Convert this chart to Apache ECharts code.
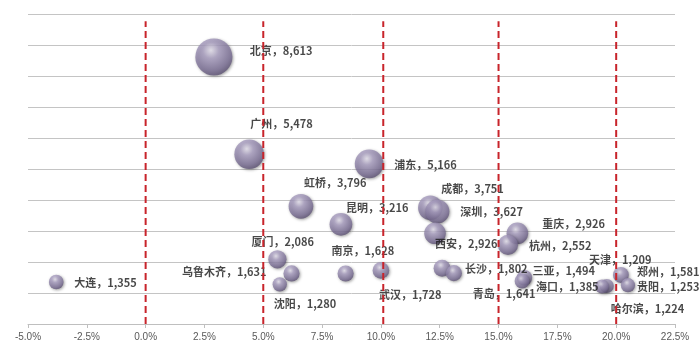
<!DOCTYPE html>
<html>
<head>
<meta charset="utf-8">
<script src="https://cdn.jsdelivr.net/npm/echarts@6/dist/echarts.min.js"></script>
<style>
  html, body { margin: 0; padding: 0; background: #fff; }
  #chart { width: 700px; height: 353px; }
</style>
</head>
<body>
<div id="chart"></div>
<script>
// airports: growth (%) on x, passengers on y, bubble size from passengers
const cities = ['北京', '广州', '浦东', '虹桥', '成都', '深圳', '昆明', '西安', '重庆', '杭州', '厦门', '长沙',
  '武汉', '青岛', '南京', '乌鲁木齐', '郑州', '三亚', '海口', '大连', '沈阳', '贵阳', '哈尔滨', '天津'];
const passengers = [8613, 5478, 5166, 3796, 3751, 3627, 3216, 2926, 2926, 2552, 2086, 1802,
  1728, 1641, 1628, 1631, 1581, 1494, 1385, 1355, 1280, 1253, 1224, 1209];
const growth = [2.9, 4.4, 9.5, 6.6, 12.1, 12.4, 8.3, 12.3, 15.8, 15.4, 5.6, 12.6,
  10.0, 13.1, 8.5, 6.2, 20.2, 16.1, 16.0, -3.8, 5.7, 20.5, 19.6, 19.4];
const refLines = [0, 5, 10.1, 15, 20];
const refTop = 9770;

// where each label sits relative to its bubble centre
const labelPlace = {
  '北京': [36, -6], '广州': [1, -30], '浦东': [25, 1], '虹桥': [3, -24], '成都': [11, -19],
  '深圳': [23, 0], '昆明': [5, -16], '西安': [0, 11], '重庆': [25, -9], '杭州': [21, 1],
  '厦门': [-26, -18], '长沙': [23, 1], '武汉': [-2, 24], '青岛': [19, 21], '南京': [-14, -23],
  '乌鲁木齐': [-25, -2], '郑州': [16, -3], '三亚': [8, -7], '海口': [14, 6], '大连': [18, 1],
  '沈阳': [-6, 19], '贵阳': [9, 2], '哈尔滨': [4, 23], '天津': [-13, -27]
};

const chart = echarts.init(document.getElementById('chart'));

const bubbles = cities.map((name, i) => ({
  name: name,
  value: [growth[i], passengers[i]],
  label: {
    offset: labelPlace[name],
    align: name === '乌鲁木齐' ? 'right' : 'left'
  }
}));

const sphere = new echarts.graphic.RadialGradient(0.42, 0.32, 0.72, [
  { offset: 0, color: '#ece8f4' },
  { offset: 0.3, color: '#aea3c6' },
  { offset: 0.75, color: '#7d7198' },
  { offset: 1, color: '#574c6e' }
]);

const option = {
  animation: false,
  grid: { left: 28, right: 25, top: 14, bottom: 29 },
  xAxis: {
    type: 'value',
    min: -5,
    max: 22.5,
    interval: 2.5,
    axisLine: { show: true, lineStyle: { color: '#bfbfbf' } },
    axisTick: { show: true, length: 4, lineStyle: { color: '#bfbfbf' } },
    axisLabel: {
      color: '#595959',
      fontFamily: 'Liberation Sans',
      fontSize: 10,
      margin: 8,
      formatter: v => v.toFixed(1) + '%'
    },
    splitLine: { show: false }
  },
  yAxis: {
    type: 'value',
    min: 0,
    max: 10000,
    interval: 1000,
    axisLine: { show: false },
    axisTick: { show: false },
    axisLabel: { show: false },
    splitLine: { lineStyle: { color: '#c4c4c4', width: 1 } }
  },
  series: [
    {
      type: 'scatter',
      z: 2,
      data: bubbles,
      symbolSize: v => 0.4 * Math.sqrt(v[1]),
      itemStyle: {
        color: sphere,
        shadowBlur: 3,
        shadowColor: 'rgba(0,0,0,0.45)',
        shadowOffsetX: 1,
        shadowOffsetY: 1
      },
      label: {
        show: true,
        position: 'inside',
        verticalAlign: 'middle',
        color: '#1a1a1a',
        fontFamily: 'Noto Sans CJK SC',
        fontWeight: 'bold',
        fontSize: 11,
        formatter: p => p.name + '，' + p.value[1].toLocaleString('en-US')
      }
    }
  ].concat(refLines.map(x => ({
    type: 'line',
    z: 5,
    symbol: 'none',
    silent: true,
    data: [[x, 0], [x, refTop]],
    lineStyle: { color: '#c8242b', width: 2, type: [7, 4] }
  })))
};

chart.setOption(option);
</script>
</body>
</html>
